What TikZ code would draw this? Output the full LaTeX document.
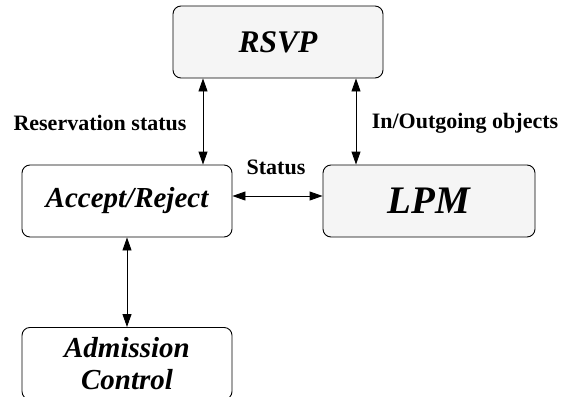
\documentclass[tikz,border=0pt]{standalone}
\usepackage{fontspec}
\setmainfont{Liberation Serif}
\usetikzlibrary{arrows.meta}
\definecolor{boxgray}{HTML}{F5F5F5}
\tikzset{
  blk/.style={draw=black, line width=0.9pt, rounded corners=8pt, minimum width=210pt, minimum height=72pt, inner sep=0pt, align=center, font=\bfseries\itshape},
  lbl/.style={font=\bfseries\fontsize{22}{25}\selectfont, inner sep=0pt},
  conn/.style={line width=0.9pt, {Triangle[length=13pt,width=9pt]}-{Triangle[length=13pt,width=9pt]}}
}
\begin{document}
\begin{tikzpicture}[x=1pt,y=-1pt]
\useasboundingbox (0,0) rectangle (561,396);
\clip (0,0) rectangle (561,396);
\node[blk, fill=boxgray, font=\bfseries\itshape\fontsize{31.5}{36}\selectfont] (rsvp) at (278,42) {RSVP};
\node[blk, fill=white, font=\bfseries\itshape\fontsize{29}{33}\selectfont] (acc) at (127,201) {Accept/Reject};
\node[blk, fill=boxgray, minimum width=212pt, font=\bfseries\itshape\fontsize{39}{42}\selectfont] (lpm) at (429,201) {LPM};
\node[blk, fill=white, font=\bfseries\itshape\fontsize{29}{32}\selectfont, anchor=north] (adm) at (127,327) {Admission\\Control};
\coordinate (c1) at (203,0);
\coordinate (c2) at (356,0);
\draw[conn] (rsvp.south -| c1) -- (acc.north -| c1);
\draw[conn] (rsvp.south -| c2) -- (lpm.north -| c2);
\draw[conn] ([yshift=5pt]acc.east) -- ([yshift=5pt]lpm.west);
\draw[conn] (acc.south) -- (adm.north);
\node[lbl] (l1) at (100,123) {Reservation status};
\node[lbl] (l2) at (276,167) {Status};
\node[lbl] (l3) at (465,123) {In/Outgoing objects};
\end{tikzpicture}
\end{document}
